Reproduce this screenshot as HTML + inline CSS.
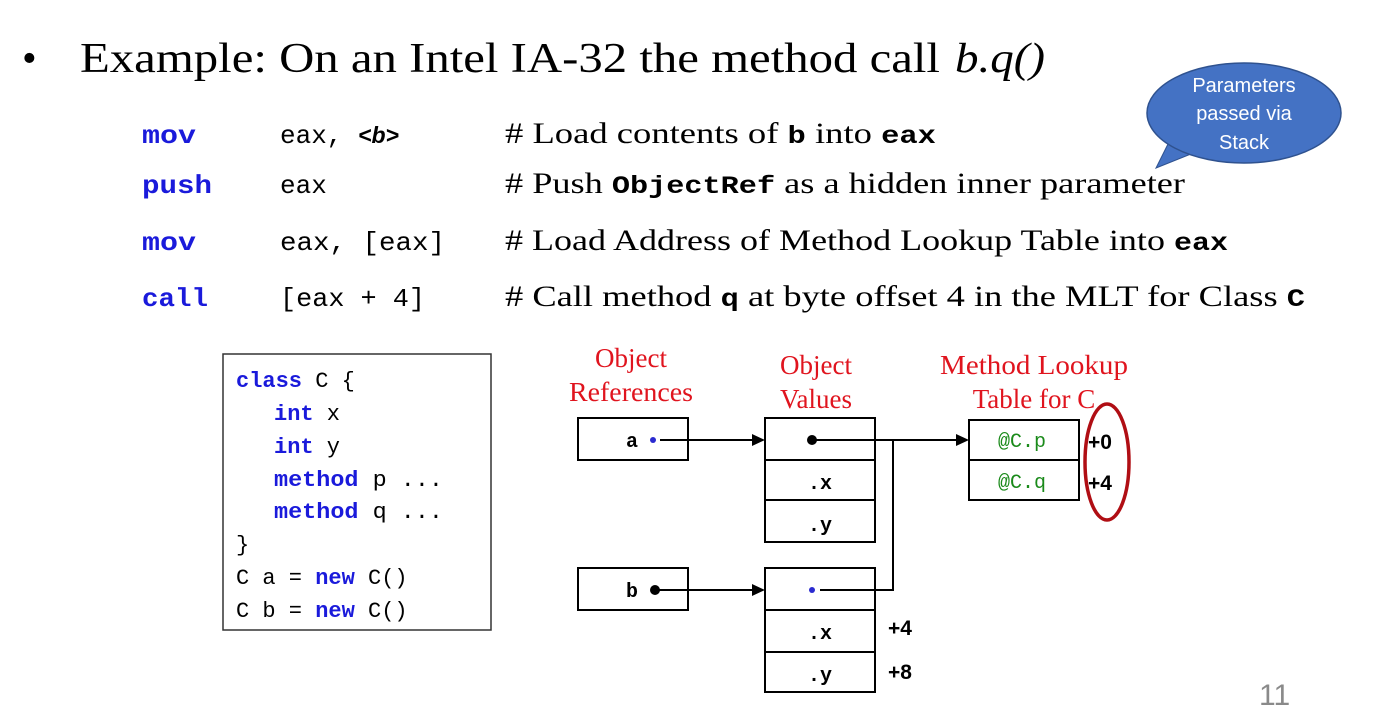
<!DOCTYPE html>
<html><head><meta charset="utf-8"><style>
body{margin:0;background:#fff;width:1395px;height:719px;overflow:hidden}
.serif{font-family:"Liberation Serif",serif}
.mono{font-family:"Liberation Mono",monospace}
.sans{font-family:"Liberation Sans",sans-serif}
</style></head><body>
<svg width="1395" height="719" viewBox="0 0 1395 719">
<g class="serif" font-size="42">
<text x="22" y="72">•</text>
<text x="80" y="72" textLength="860" lengthAdjust="spacingAndGlyphs">Example: On an Intel IA-32 the method call</text>
<text x="955" y="72" font-style="italic" textLength="90" lengthAdjust="spacingAndGlyphs">b.q()</text>
</g>
<g font-size="26">
<g class="mono" font-weight="bold" fill="#1a1adb">
<text x="142" y="143" textLength="54" lengthAdjust="spacingAndGlyphs">mov</text><text x="142" y="193" textLength="70" lengthAdjust="spacingAndGlyphs">push</text><text x="142" y="250" textLength="54" lengthAdjust="spacingAndGlyphs">mov</text><text x="142" y="306" textLength="66" lengthAdjust="spacingAndGlyphs">call</text></g>
<g class="mono" fill="#000">
<text x="280" y="143">eax,  <tspan class="sans" font-style="italic" font-weight="bold" font-size="23">&lt;b&gt;</tspan></text>
<text x="280" y="193">eax</text><text x="280" y="250" textLength="165" lengthAdjust="spacingAndGlyphs">eax, [eax]</text><text x="280" y="306" textLength="145" lengthAdjust="spacingAndGlyphs">[eax + 4]</text></g>
<g class="serif" font-size="30" fill="#000">
<text x="505" y="143" textLength="431" lengthAdjust="spacingAndGlyphs"># Load contents of <tspan class="mono" font-size="25" font-weight="bold">b</tspan> into <tspan class="mono" font-size="25" font-weight="bold">eax</tspan></text>
<text x="505" y="193" textLength="680" lengthAdjust="spacingAndGlyphs"># Push <tspan class="mono" font-size="25" font-weight="bold">ObjectRef</tspan> as a hidden inner parameter</text>
<text x="505" y="250" textLength="723" lengthAdjust="spacingAndGlyphs"># Load Address of Method Lookup Table into <tspan class="mono" font-size="25" font-weight="bold">eax</tspan></text>
<text x="505" y="306" textLength="800" lengthAdjust="spacingAndGlyphs"># Call method <tspan class="mono" font-size="25" font-weight="bold">q</tspan> at byte offset 4 in the MLT for Class <tspan class="mono" font-size="25" font-weight="bold">C</tspan></text>
</g></g>
<g>
<path d="M1170,140 L1156,168 L1196,152 Z" fill="#4472C4" stroke="#2f528f"/>
<ellipse cx="1244" cy="113" rx="97" ry="50" fill="#4472C4" stroke="#2f528f" stroke-width="1.5"/>
<g class="sans" font-size="20" fill="#fff" text-anchor="middle">
<text x="1244" y="92">Parameters</text><text x="1244" y="120">passed via</text><text x="1244" y="149">Stack</text></g>
</g>
<g class="mono" font-size="22">
<rect x="223" y="354" width="268" height="276" fill="#fff" stroke="#333" stroke-width="1.5"/>
<text x="236" y="387"><tspan fill="#1a1adb" font-weight="bold">class</tspan> C {</text>
<text x="274" y="420"><tspan fill="#1a1adb" font-weight="bold">int</tspan> x</text>
<text x="274" y="453"><tspan fill="#1a1adb" font-weight="bold">int</tspan> y</text>
<text x="274" y="486" textLength="169" lengthAdjust="spacingAndGlyphs"><tspan fill="#1a1adb" font-weight="bold">method</tspan> p ...</text>
<text x="274" y="518" textLength="169" lengthAdjust="spacingAndGlyphs"><tspan fill="#1a1adb" font-weight="bold">method</tspan> q ...</text>
<text x="236" y="551">}</text>
<text x="236" y="584">C a = <tspan fill="#1a1adb" font-weight="bold">new</tspan> C()</text>
<text x="236" y="617">C b = <tspan fill="#1a1adb" font-weight="bold">new</tspan> C()</text>
</g>
<g class="serif" font-size="27" fill="#e0141e" text-anchor="middle">
<text x="631" y="367">Object</text><text x="631" y="401" textLength="124" lengthAdjust="spacingAndGlyphs">References</text>
<text x="816" y="374">Object</text><text x="816" y="408">Values</text>
<text x="1034" y="374" textLength="188" lengthAdjust="spacingAndGlyphs">Method Lookup</text><text x="1034" y="408">Table for C</text>
</g>
<g fill="#fff" stroke="#000" stroke-width="2">
<rect x="578" y="418" width="110" height="42"/>
<rect x="765" y="418" width="110" height="42"/><rect x="765" y="460" width="110" height="40"/><rect x="765" y="500" width="110" height="42"/>
<rect x="578" y="568" width="110" height="42"/>
<rect x="765" y="568" width="110" height="42"/><rect x="765" y="610" width="110" height="42"/><rect x="765" y="652" width="110" height="40"/>
<rect x="969" y="420" width="110" height="40"/><rect x="969" y="460" width="110" height="40"/>
</g>
<g stroke="#000" stroke-width="2" fill="none">
<line x1="660" y1="440" x2="755" y2="440"/>
<line x1="816" y1="440" x2="959" y2="440"/>
<polyline points="820,590 893,590 893,440"/>
<line x1="659" y1="590" x2="755" y2="590"/>
</g>
<g fill="#000">
<path d="M765,440 L752,434 L752,446 Z"/>
<path d="M969,440 L956,434 L956,446 Z"/>
<path d="M765,590 L752,584 L752,596 Z"/>
</g>
<circle cx="653" cy="440" r="3" fill="#2a2ad0"/>
<circle cx="812" cy="440" r="5" fill="#000"/>
<circle cx="655" cy="590" r="5" fill="#000"/>
<circle cx="812" cy="590" r="3" fill="#2a2ad0"/>
<g class="mono" font-size="20" font-weight="bold">
<text x="626" y="447">a</text><text x="626" y="597">b</text>
<text x="808" y="489">.x</text><text x="808" y="531">.y</text>
<text x="808" y="639">.x</text><text x="808" y="681">.y</text>
<g fill="#1a8a1a" font-weight="normal" font-size="20"><text x="998" y="447">@C.p</text><text x="998" y="488">@C.q</text></g>
<g class="sans" font-size="21"><text x="1088" y="449">+0</text><text x="1088" y="490">+4</text>
<text x="888" y="635">+4</text><text x="888" y="679">+8</text></g>
</g>
<ellipse cx="1107" cy="462" rx="22" ry="58" fill="none" stroke="#b00e14" stroke-width="3.5"/>
<text x="1259" y="705" class="sans" font-size="30" fill="#8a8a8a">11</text>
</svg>
</body></html>
